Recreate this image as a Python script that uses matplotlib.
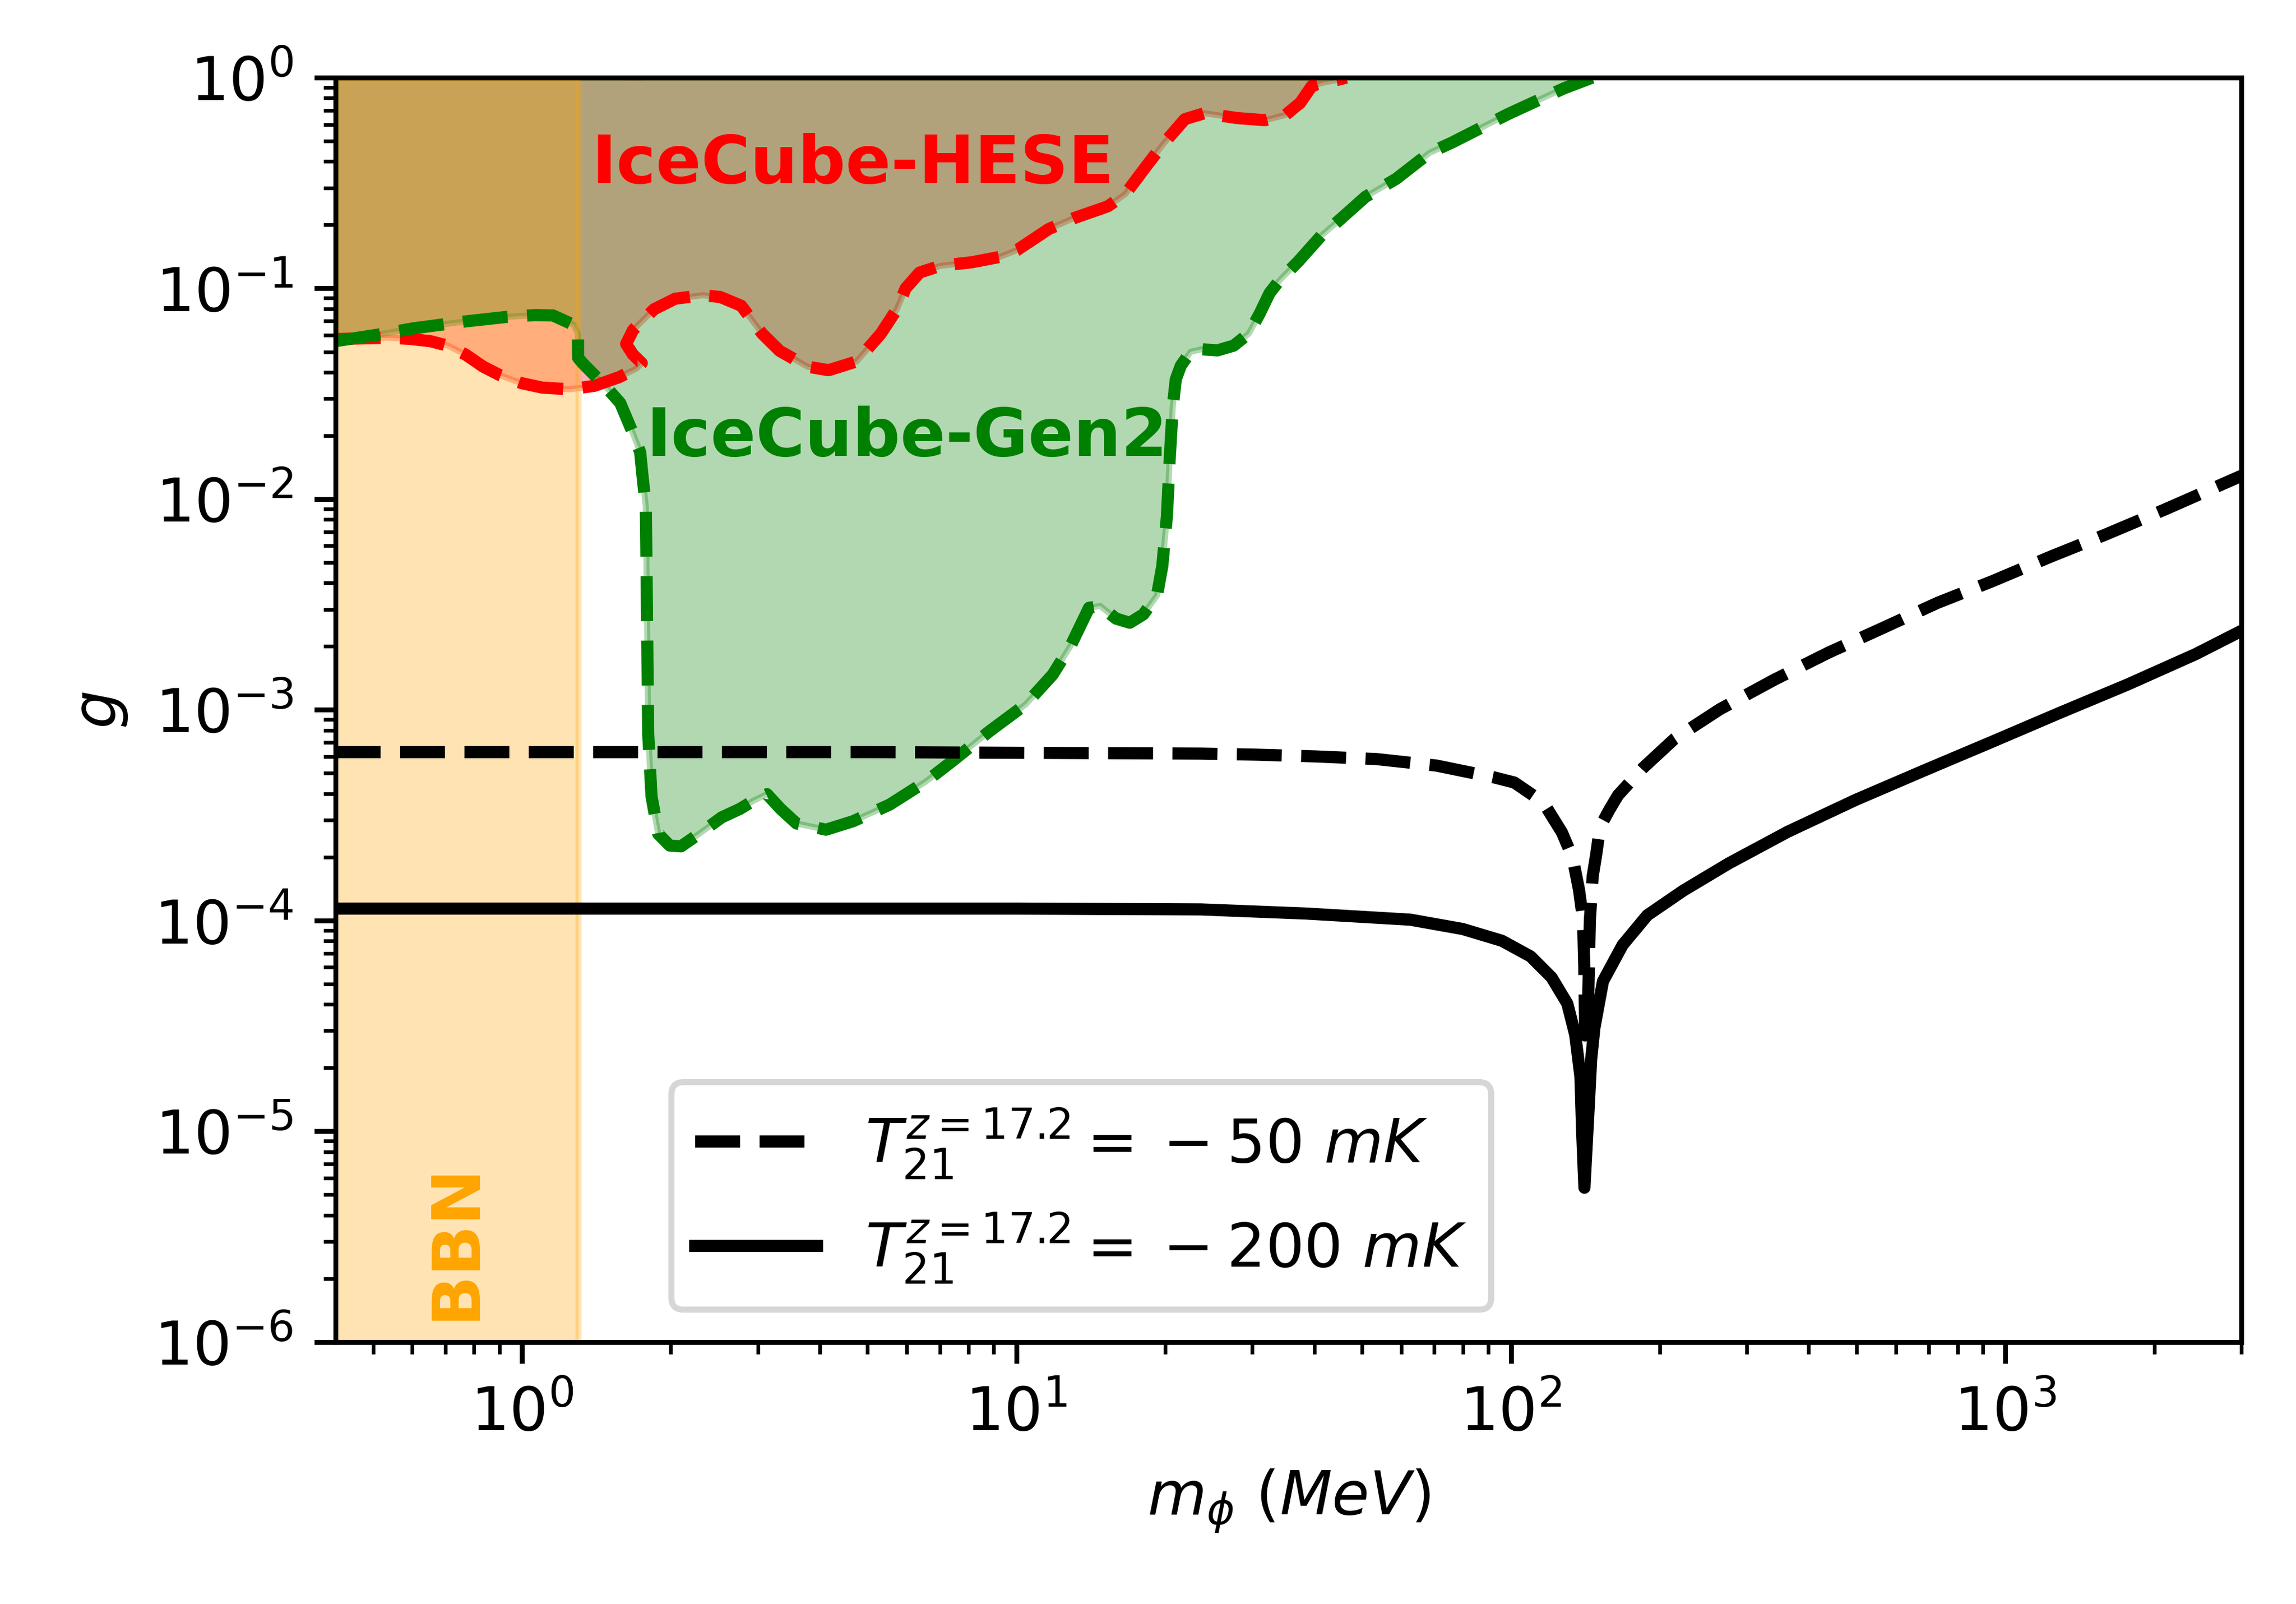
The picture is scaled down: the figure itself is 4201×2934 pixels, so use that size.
import numpy as np
import matplotlib.pyplot as plt

# IceCube-Gen2 boundary (m_phi in MeV, g); region above the curve is excluded
gen2_m = [0.42, 0.504, 0.603, 0.769, 0.935, 1.065, 1.155, 1.273, 1.298, 1.299,
          1.326, 1.473, 1.58, 1.67, 1.734, 1.751, 1.78, 1.786, 1.793, 1.80,
          1.828, 1.886, 1.99, 2.097, 2.281, 2.535, 2.76, 2.94, 3.13, 3.334,
          3.59, 4.12, 4.67, 5.54, 6.55, 7.44, 8.81, 10.43, 11.84, 12.88,
          14.02, 14.77, 15.9, 16.95, 18.06, 19.24, 19.72, 20.15, 20.4, 20.7,
          21.0, 21.5, 22.5, 23.7, 25.5, 27.5, 29.5, 31.0, 32.5, 34.0,
          37.2, 41.3, 45.2, 50.8, 58.6, 68.5, 76.0, 98.6, 127.9, 146.0]
gen2_g = [0.0562, 0.060, 0.0646, 0.0697, 0.0733, 0.0747, 0.0744, 0.0671, 0.0611, 0.0468,
          0.0442, 0.0344, 0.0286, 0.021, 0.0167, 0.0132, 0.0092, 0.0048, 0.0019, 7.7e-4,
          3.89e-4, 2.58e-4, 2.27e-4, 2.25e-4, 2.58e-4, 3.09e-4, 3.39e-4, 3.71e-4, 3.98e-4, 3.39e-4,
          2.89e-4, 2.70e-4, 2.96e-4, 3.55e-4, 4.56e-4, 5.74e-4, 7.9e-4, 1.06e-3, 1.47e-3, 2.02e-3,
          3.05e-3, 3.11e-3, 2.71e-3, 2.59e-3, 2.84e-3, 3.49e-3, 4.81e-3, 8.3e-3, 0.0151, 0.0273,
          0.037, 0.043, 0.050, 0.0514, 0.0508, 0.0535, 0.061, 0.0755, 0.095, 0.1088,
          0.1347, 0.1774, 0.213, 0.272, 0.331, 0.44, 0.492, 0.671, 0.889, 1.0]

# IceCube-HESE boundary
hese_m = [0.42, 0.538, 0.593, 0.654, 0.709, 0.769, 0.835, 0.905, 0.998, 1.10,
          1.252, 1.403, 1.572, 1.705, 1.747, 1.677, 1.624, 1.677, 1.85, 2.04,
          2.32, 2.518, 2.776, 3.06, 3.32, 3.78, 4.17, 4.75, 5.32, 5.73,
          5.97, 6.37, 7.02, 8.12, 9.25, 10.03, 11.61, 13.0, 15.3, 16.6,
          18.3, 19.85, 21.9, 24.0, 27.9, 31.8, 35.0, 37.5, 39.6, 42.0,
          44.5, 46.5]
hese_g = [0.0575, 0.0583, 0.0576, 0.0561, 0.0534, 0.0485, 0.0425, 0.0386, 0.0355, 0.0338,
          0.0332, 0.0345, 0.0379, 0.0417, 0.0442, 0.0485, 0.0545, 0.0634, 0.0796, 0.0893,
          0.0928, 0.091, 0.0827, 0.061, 0.0505, 0.0425, 0.0409, 0.045, 0.061, 0.0796,
          0.1001, 0.1189, 0.128, 0.133, 0.141, 0.152, 0.191, 0.2145, 0.245, 0.280,
          0.380, 0.4866, 0.635, 0.678, 0.643, 0.628, 0.665, 0.76, 0.915, 0.95,
          0.975, 1.0]

# 21cm constraints
t50_m = [0.42, 5.0, 23.6, 30.5, 40.4, 53.5, 70.7, 92.5, 101.6, 111.4,
         118.0, 126.8, 133.2, 137.3, 139.9, 140.7, 141.3, 143.3, 144.4, 146.3,
         148.7, 150.3, 153.5, 158.3, 164.6, 175.7, 184.8, 214.2, 264.6, 340.9,
         439.0, 565.7, 729.0, 939.0, 1236.0, 1592.0, 2095.0, 3000.0]
t50_g = [6.3e-4, 6.3e-4, 6.2e-4, 6.13e-4, 6.01e-4, 5.84e-4, 5.44e-4, 4.78e-4, 4.52e-4, 3.9e-4,
         3.44e-4, 2.62e-4, 2.0e-4, 1.40e-4, 1.01e-4, 6.0e-5, 2.85e-5, 4.3e-5, 1.0e-4, 1.62e-4,
         2.05e-4, 2.45e-4, 2.95e-4, 3.37e-4, 3.93e-4, 4.65e-4, 5.29e-4, 7.29e-4, 1.007e-3, 1.39e-3,
         1.87e-3, 2.45e-3, 3.22e-3, 4.07e-3, 5.34e-3, 6.78e-3, 8.9e-3, 1.29e-2]

t200_m = [0.42, 10.0, 23.6, 38.5, 62.6, 79.9, 95.9, 109.6, 120.8, 130.0,
          134.9, 138.2, 139.3, 140.8, 143.3, 145.3, 147.5, 153.5, 168.2, 188.7,
          223.4, 276.0, 363.0, 498.0, 684.0, 939.0, 1288.0, 1768.0, 2427.0, 3000.0]
t200_g = [1.14e-4, 1.14e-4, 1.13e-4, 1.08e-4, 1.01e-4, 9.12e-5, 8.02e-5, 6.76e-5, 5.38e-5, 4.04e-5,
          2.87e-5, 1.82e-5, 1.0e-5, 5.4e-6, 1.17e-5, 2.2e-5, 3.1e-5, 5.15e-5, 7.66e-5, 1.06e-4,
          1.39e-4, 1.87e-4, 2.64e-4, 3.74e-4, 5.15e-4, 7.05e-4, 9.68e-4, 1.32e-3, 1.84e-3, 2.37e-3]

bbn_m = [0.1, 1.3]

fig = plt.figure(figsize=(4201 / 800, 2934 / 800), dpi=800)
ax = fig.add_axes([0.1462, 0.1633, 0.8300, 0.7883])

hm, hg = np.array(hese_m), np.array(hese_g)
gm, gg = np.array(gen2_m), np.array(gen2_g)

# excluded regions (filled up to g = 1)
ax.fill(np.r_[hm, hm[::-1]], np.r_[hg, np.ones_like(hg)], color='red', alpha=0.3)
ax.fill(np.r_[gm, gm[::-1]], np.r_[gg, np.ones_like(gg)], color='green', alpha=0.3)
ax.axvspan(bbn_m[0], bbn_m[1], color='orange', alpha=0.3)

ax.plot(hm, hg, '--', color='red', lw=2)
ax.plot(gm, gg, '--', color='green', lw=2)

ax.plot(t50_m, t50_g, 'k--', lw=2, label=r'$T_{21}^{z=17.2} =\:-\:50\ mK$')
ax.plot(t200_m, t200_g, 'k-', lw=2, label=r'$T_{21}^{z=17.2} =\:-\:200\ mK$')

ax.set_xscale('log')
ax.set_yscale('log')
ax.set_xlim(0.42, 3000)
ax.set_ylim(1e-6, 1)

ax.text(1.385, 0.316, 'IceCube-HESE', color='red', fontsize=11, fontweight='bold')
ax.text(1.785, 0.016, 'IceCube-Gen2', color='green', fontsize=11, fontweight='bold')
ax.text(0.735, 3.0e-6, 'BBN', color='orange', fontsize=11, fontweight='bold',
        rotation=90, ha='center', va='center')

ax.set_xlabel(r'$m_\phi\ (MeV)$')
ax.set_ylabel(r'$g$')
ax.legend(loc='lower left', bbox_to_anchor=(0.176, 0.0257), borderaxespad=0)

fig.savefig('out.png', dpi=800)
